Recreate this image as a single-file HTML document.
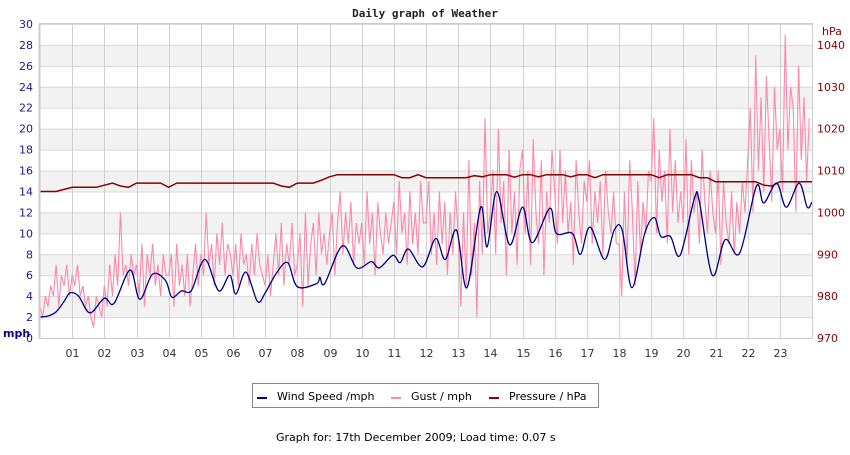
<!DOCTYPE html>
<html><head><meta charset="utf-8"><style>
body{margin:0;background:#fff;}
svg text{font-family:"DejaVu Sans","Liberation Sans",sans-serif;}
</style></head><body>
<svg id="chart" width="850" height="450" xmlns="http://www.w3.org/2000/svg">
<text x="425" y="17" text-anchor="middle" font-size="11" font-weight="bold" style="font-family:'DejaVu Sans Mono',monospace" fill="#222">Daily graph of Weather</text>
<g id="grid"></g>
<g id="series"></g>
<g id="axes"></g>
<text x="3" y="337" font-size="11" font-weight="bold" fill="#00008b">mph</text>
<text x="822" y="35" font-size="11" fill="#8b0000">hPa</text>
<g>
<rect x="252.5" y="383.5" width="346" height="24" fill="#fff" stroke="#888"/>
<g><rect x="257" y="397" width="10" height="2" fill="#00008b"/><text x="277" y="400" font-size="11" fill="#000">Wind Speed /mph</text></g>
<g><rect x="391" y="397" width="10" height="2" fill="#ff88aa"/><text x="411" y="400" font-size="11" fill="#000">Gust / mph</text></g>
<g><rect x="489" y="397" width="10" height="2" fill="#8b0000"/><text x="509" y="400" font-size="11" fill="#000">Pressure / hPa</text></g>
</g>
<text x="276" y="441" font-size="11" fill="#000">Graph for: 17th December 2009; Load time: 0.07 s</text>
</svg>
<script>
const hourLabels=["01","02","03","04","05","06","07","08","09","10","11","12","13","14","15","16","17","18","19","20","21","22","23"];
const mphTicks=[0,2,4,6,8,10,12,14,16,18,20,22,24,26,28,30];
const hpaTicks=[970,980,990,1000,1010,1020,1030,1040];
const windHours=[0,0.25,0.5,0.75,0.93,1.2,1.55,2.0,2.3,2.8,3.1,3.5,3.9,4.1,4.4,4.7,5.0,5.2,5.56,5.9,6.09,6.4,6.76,7.0,7.35,7.7,8.0,8.6,8.7,8.85,9.4,9.85,10.3,10.55,10.97,11.2,11.45,11.9,12.3,12.6,12.95,13.27,13.7,13.9,14.2,14.6,15.0,15.3,15.85,16.05,16.55,16.8,17.1,17.55,17.85,18.1,18.4,18.8,19.1,19.3,19.6,19.9,20.35,20.5,20.9,21.3,21.75,22.27,22.5,22.9,23.2,23.6,23.85,24];
const windValues=[2.0,2.1,2.5,3.5,4.3,4.0,2.4,3.8,3.3,6.5,3.7,6.1,5.5,3.9,4.5,4.5,7.0,7.3,4.5,6.0,4.2,6.3,3.5,4.3,6.2,7.2,4.9,5.2,5.8,5.2,8.8,6.7,7.3,6.7,7.9,7.2,8.5,6.8,9.5,7.5,10.3,4.8,12.5,8.7,14.0,8.9,12.5,9.1,12.4,10.0,10.0,8.0,10.6,7.5,10.3,10.3,4.8,10.0,11.5,9.7,9.7,7.9,13.4,13.0,6.0,9.4,8.1,14.5,12.9,14.8,12.5,14.8,12.5,13.0];
const gustValues=[3,2,4,3,5,4,7,3,6,5,7,4, 6,5,7,4,5,3,4,2,1,4,3,2, 5,3,7,4,8,5,12,6,7,5,8,6, 7,4,9,3,8,6,9,5,7,4,8,6, 6,8,3,9,5,7,4,8,3,6,9,5, 8,6,12,7,9,5,10,7,11,6,9,8, 6,9,5,10,7,8,5,9,6,10,7,6, 5,8,4,7,10,6,11,5,9,7,11,6, 7,10,3,12,5,9,11,6,12,8,10,7, 10,12,6,11,14,8,12,9,13,7,11,9, 11,7,14,9,12,6,13,10,8,12,9,11, 13,8,15,10,12,7,14,9,12,8,15,11, 11,15,8,12,7,14,9,13,6,12,8,14, 10,3,12,5,17,6,11,2,15,8,21,10, 12,16,8,20,11,15,6,18,10,14,7,16, 18,10,16,7,19,12,9,17,6,14,11,18, 14,9,18,11,16,10,13,7,17,12,9,15, 13,17,9,14,11,15,8,16,12,10,14,9, 9,4,14,7,17,12,5,15,8,13,10,16, 15,21,10,18,13,16,9,20,12,17,11,14, 11,19,8,17,12,14,9,18,13,10,16,12, 10,16,7,15,11,9,14,8,13,10,15,12, 17,22,12,27,16,23,14,25,19,13,24,18, 20,14,29,18,24,22,12,26,17,23,15,21];
const pressureValues=[1005,1005,1005,1005.5, 1006,1006,1006,1006, 1006.5,1007,1006.3,1006, 1007,1007,1007,1007, 1006,1007,1007,1007, 1007,1007,1007,1007, 1007,1007,1007,1007, 1007,1007,1006.3,1006, 1007,1007,1007,1007.7, 1008.5,1009,1009,1009, 1009,1009,1009,1009, 1009,1008.3,1008.3,1009, 1008.3,1008.3,1008.3,1008.3, 1008.3,1008.3,1008.8,1008.5, 1009,1009,1009,1008.4, 1009,1009,1008.5,1009, 1009,1009,1008.5,1009, 1009,1008.3,1009,1009, 1009,1009,1009,1009, 1009,1008.3,1009,1009, 1009,1009,1008.3,1008.3, 1007.3,1007.3,1007.3,1007.3, 1007.3,1007.3,1006.5,1006.3, 1007.3,1007.3,1007.3,1007.3];

const L=40,R=812,T=24,B=338;
const xH=h=>L+h*(R-L)/24;
const yM=v=>B-v*(B-T)/30;
const yP=p=>B-(p-970)*(B-T)/75;
const NS="http://www.w3.org/2000/svg";
function mk(tag,attrs,parent){const e=document.createElementNS(NS,tag);for(const k in attrs)e.setAttribute(k,attrs[k]);parent.appendChild(e);return e;}
const grid=document.getElementById('grid'),axes=document.getElementById('axes'),series=document.getElementById('series');
for(let v=2;v<30;v+=4){const r=mk('rect',{x:L,y:yM(v+2),width:R-L,height:yM(v)-yM(v+2),fill:'#f2f2f2'},grid);

}
mphTicks.forEach(v=>{const l=mk('line',{x1:L,x2:R,y1:yM(v)+0.5,y2:yM(v)+0.5,stroke:'#d8d8d8'},grid);


const t=mk('text',{x:33,y:yM(v)+4,'text-anchor':'end','font-size':11,fill:'#1a1a8c'},axes);t.textContent=v;

});
hourLabels.forEach((s,i)=>{const x=Math.round(xH(i+1))+0.5;const l=mk('line',{x1:x,x2:x,y1:T,y2:B,stroke:'#d0d0d0'},grid);


const t=mk('text',{x:x,y:357,'text-anchor':'middle','font-size':11,fill:'#333'},axes);t.textContent=s;

});
hpaTicks.forEach(p=>{const t=mk('text',{x:817,y:yP(p)+4,'font-size':11,fill:'#8b0000'},axes);t.textContent=p;

});
const fr=mk('rect',{x:L-0.5,y:T-0.5,width:R-L+1,height:B-T+1,fill:'none',stroke:'#ccc'},axes);


const ax=mk('line',{x1:L-0.5,x2:L-0.5,y1:T,y2:B,stroke:'#ccc','stroke-width':2},axes);


// gust
let gp=gustValues.map((v,i)=>xH(i/12).toFixed(1)+','+yM(v).toFixed(1)).join(' ');
const g=mk('polyline',{points:gp,fill:'none',stroke:'#ff88aa','stroke-width':1.1},series);


// pressure
let pp=pressureValues.map((v,i)=>xH(i/4).toFixed(1)+','+yP(v).toFixed(1));
pp.push(xH(24).toFixed(1)+','+yP(pressureValues[pressureValues.length-1]).toFixed(1));
const p=mk('polyline',{points:pp.join(' '),fill:'none',stroke:'#8b0000','stroke-width':1.5},series);


// wind smooth (catmull-rom)
const pts=windHours.map((h,i)=>[xH(h),yM(windValues[i])]);
let d='M'+pts[0][0]+','+pts[0][1];
for(let i=0;i<pts.length-1;i++){const p0=pts[Math.max(0,i-1)],p1=pts[i],p2=pts[i+1],p3=pts[Math.min(pts.length-1,i+2)];
d+=' C'+(p1[0]+(p2[0]-p0[0])/6)+','+(p1[1]+(p2[1]-p0[1])/6)+' '+(p2[0]-(p3[0]-p1[0])/6)+','+(p2[1]-(p3[1]-p1[1])/6)+' '+p2[0]+','+p2[1];}
const w=mk('path',{d:d,fill:'none',stroke:'#00008b','stroke-width':1.3},series);


</script>
</body></html>
